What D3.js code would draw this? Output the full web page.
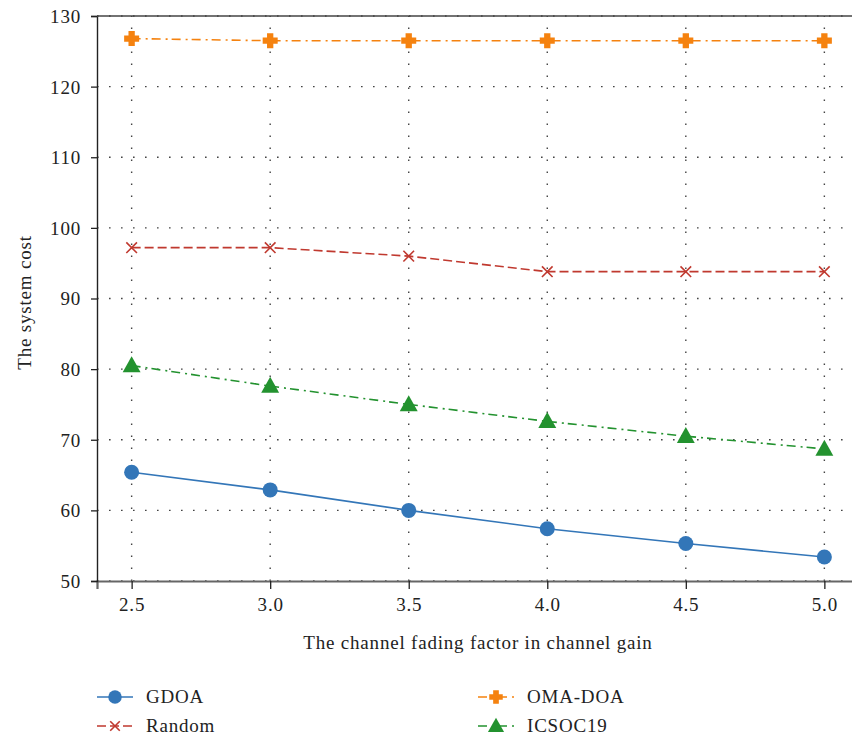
<!DOCTYPE html>
<html>
<head>
<meta charset="utf-8">
<script src="https://cdn.jsdelivr.net/npm/d3@7"></script>
<style>
  html, body { margin: 0; padding: 0; background: #fff; }
  svg { display: block; }
  text { font-family: "Liberation Serif", "DejaVu Serif", serif; fill: #222; }
</style>
</head>
<body>
<svg id="chart" width="852" height="735"></svg>
<script>
// Channel fading factor values on the x axis
const fadingFactors = [2.5, 3.0, 3.5, 4.0, 4.5, 5.0];

// System cost for each algorithm
const gdoa    = [65.4, 62.9, 60.0, 57.4, 55.3, 53.4];
const random  = [97.2, 97.2, 96.0, 93.8, 93.8, 93.8];
const omaDoa  = [126.8, 126.5, 126.5, 126.5, 126.5, 126.5];
const icsoc19 = [80.5, 77.6, 75.0, 72.6, 70.5, 68.7];

const xTicks = [2.5, 3.0, 3.5, 4.0, 4.5, 5.0];
const yTicks = [50, 60, 70, 80, 90, 100, 110, 120, 130];

const seriesNames = ["GDOA", "Random", "OMA-DOA", "ICSOC19"];

const series = [
  { name: seriesNames[0], values: gdoa,    color: "#3376b8", dash: null,      marker: "circle" },
  { name: seriesNames[1], values: random,  color: "#c0392f", dash: "9,4",     marker: "x" },
  { name: seriesNames[2], values: omaDoa,  color: "#f5820f", dash: "9,5,2,4", marker: "plus" },
  { name: seriesNames[3], values: icsoc19, color: "#23922f", dash: "9,5,2,4", marker: "triangle" }
];

const svg = d3.select("#chart");
const margin = { left: 97, top: 16, right: -7, bottom: 154 };
const W = 852, H = 735;
const FONT = "Liberation Serif";
const LABEL_SIZE = 19;
const SPACING = "0.8px";

const x = d3.scaleLinear().domain([2.375, 5.125]).range([margin.left, W - margin.right]);
const y = d3.scaleLinear().domain([50, 130]).range([H - margin.bottom, margin.top]);

const plot = svg.append("g");

// Dotted grid
plot.append("g").selectAll("line").data(yTicks).join("line")
  .attr("x1", x.range()[0]).attr("x2", x.range()[1])
  .attr("y1", d => y(d)).attr("y2", d => y(d))
  .attr("stroke", "#444").attr("stroke-width", 1.4)
  .attr("stroke-dasharray", "1.6,10.4");
plot.append("g").selectAll("line").data(xTicks).join("line")
  .attr("x1", d => x(d)).attr("x2", d => x(d))
  .attr("y1", y.range()[0]).attr("y2", y.range()[1])
  .attr("stroke", "#444").attr("stroke-width", 1.4)
  .attr("stroke-dasharray", "1.6,10.4");

// Axes
const xAxis = d3.axisBottom(x).tickValues(xTicks).tickFormat(d3.format(".1f")).tickSize(8).tickPadding(9);
const yAxis = d3.axisLeft(y).tickValues(yTicks).tickFormat(d3.format("d")).tickSize(6).tickPadding(10);

const gx = svg.append("g").attr("transform", `translate(0,${y(50)})`).call(xAxis);
gx.attr("font-family", FONT).attr("font-size", LABEL_SIZE);
gx.select(".domain").attr("stroke", "#666").attr("stroke-width", 2.2);
gx.selectAll(".tick line").attr("stroke", "#222").attr("stroke-width", 1.3);
gx.selectAll(".tick text").attr("fill", "#222").style("letter-spacing", SPACING);

const gy = svg.append("g").attr("transform", `translate(${x(2.375)},0)`).call(yAxis);
gy.attr("font-family", FONT).attr("font-size", LABEL_SIZE);
gy.select(".domain").attr("stroke", "#222").attr("stroke-width", 1.4);
gy.selectAll(".tick line").attr("stroke", "#222").attr("stroke-width", 1.3);
gy.selectAll(".tick text").attr("fill", "#222").style("letter-spacing", SPACING).attr("dy", "0.34em");

// Top frame line
svg.append("line")
  .attr("x1", x(2.375)).attr("x2", W)
  .attr("y1", y(130)).attr("y2", y(130))
  .attr("stroke", "#444").attr("stroke-width", 1.6);

// Axis titles
svg.append("text")
  .attr("x", (x(2.375) + x(5.125)) / 2).attr("y", 649)
  .attr("text-anchor", "middle").attr("font-size", LABEL_SIZE)
  .style("letter-spacing", SPACING)
  .text("The channel fading factor in channel gain");
svg.append("text")
  .attr("transform", `translate(31,${(y(50) + y(130)) / 2 + 4}) rotate(-90)`)
  .attr("text-anchor", "middle").attr("font-size", LABEL_SIZE)
  .style("letter-spacing", SPACING)
  .text("The system cost");

// Marker drawing
function drawMarker(g, type, color, size) {
  const s = size;
  if (type === "circle") {
    g.append("circle").attr("r", s * 0.5).attr("fill", color);
  } else if (type === "triangle") {
    const h = s;
    g.append("path")
      .attr("d", `M0,${-h * 0.58}L${h * 0.56},${h * 0.42}L${-h * 0.56},${h * 0.42}Z`)
      .attr("fill", color);
  } else if (type === "plus") {
    const a = s * 0.5, t = s * 0.21;
    g.append("path")
      .attr("d", `M${-t},${-a}H${t}V${-t}H${a}V${t}H${t}V${a}H${-t}V${t}H${-a}V${-t}H${-t}Z`)
      .attr("fill", color);
  } else if (type === "x") {
    const a = s * 0.38;
    g.append("path")
      .attr("d", `M${-a},${-a}L${a},${a}M${-a},${a}L${a},${-a}`)
      .attr("stroke", color).attr("stroke-width", 1.6).attr("fill", "none");
  }
}

const line = d3.line().x((d, i) => x(fadingFactors[i])).y(d => y(d));
const markerSize = { circle: 15, triangle: 16, plus: 15, x: 14 };

series.forEach(s => {
  const g = svg.append("g");
  g.append("path")
    .attr("d", line(s.values))
    .attr("fill", "none")
    .attr("stroke", s.color)
    .attr("stroke-width", 1.6)
    .attr("stroke-dasharray", s.dash);
  s.values.forEach((v, i) => {
    const m = g.append("g").attr("transform", `translate(${x(fadingFactors[i])},${y(v)})`);
    drawMarker(m, s.marker, s.color, markerSize[s.marker]);
  });
});

// Legend in two columns below the plot
const legendPos = [
  { x: 97, y: 697 }, { x: 97, y: 726 },
  { x: 478, y: 697 }, { x: 478, y: 726 }
];
series.forEach((s, i) => {
  const p = legendPos[i];
  const g = svg.append("g").attr("transform", `translate(${p.x},${p.y})`);
  g.append("line").attr("x1", 0).attr("x2", 36).attr("y1", 0).attr("y2", 0)
    .attr("stroke", s.color).attr("stroke-width", 1.6)
    .attr("stroke-dasharray", s.dash);
  const m = g.append("g").attr("transform", "translate(18,0)");
  drawMarker(m, s.marker, s.color, markerSize[s.marker] * 0.9);
  g.append("text").attr("x", 49).attr("y", 6).attr("font-size", LABEL_SIZE)
    .style("letter-spacing", SPACING).text(s.name);
});
</script>
</body>
</html>
